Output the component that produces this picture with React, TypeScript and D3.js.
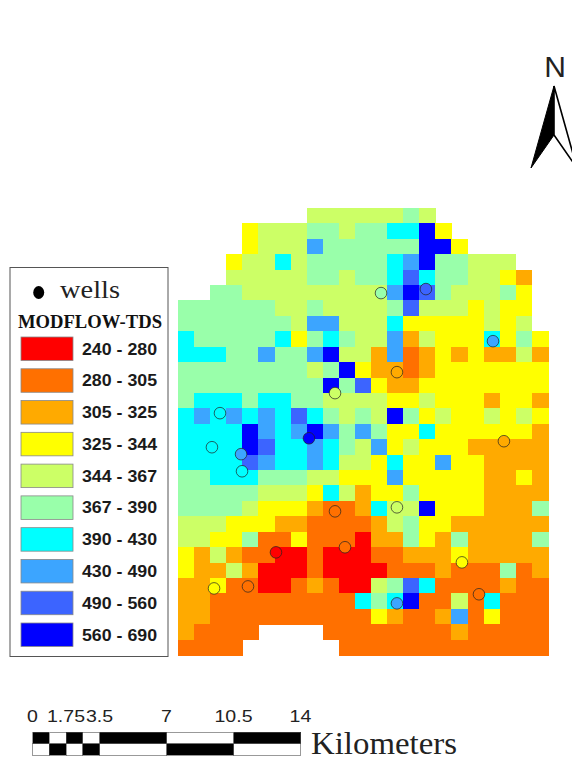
import React from "react";
import * as d3 from "d3";

// MODFLOW-TDS class for each model cell; "." is outside the model domain.
const gridRows = [
  "........GGGGGGMG.......",
  "....YGGGMMGMMCCDY......",
  "....YGGGLMMMMMMDDY.....",
  "...YGGCGMMMMMCLDMMGGG..",
  "...GGGGGMMGMMCBCMMGGYA.",
  "..MMGGGGGGGGGLDBMGGGMY.",
  "MMMMMMGGMGGGGMBGGGYGYY.",
  "MMMMMMMGLLGGGCYYYYYGYG.",
  "CMMMMMCYMCMGGLAGYYYCYMY",
  "CCCMMLMMLDGGALOAYAYAAGA",
  "MMMMMMMMGMDYAAOAYYYYYYY",
  "MMMMMMMMMDMBYAAYYYYYYYY",
  "MCCCMCCMMGGGGYYGYYYAYYA",
  "CLCLCLCBCMGMGDMYGYYGYGY",
  "CCCCDLCLDLMLMYYCYYYYYYA",
  "CCCCDBCCLCMGLYGYYYAAAAA",
  "CCCCBLCCLCGGYCYYLYYAAAA",
  "MMCCCMMMGGYYYLYYYYYAAYA",
  "MMMMMGGGYCGAYYMYYYYAAAA",
  "MMMMGYYYAOOACGGDYYYAAAM",
  "GGGYYYAAOOOOAGMYYAAAAAA",
  "GGYYMOOYOOORAAMYAMAAAAM",
  "YAGAOORRORRROOAAAYAAAAA",
  "YAAGARRRORRRROOOAOOOMOA",
  "AAYOORROAORRGMBCOOOOAOO",
  "AAOOOOOOOOOCMCDOOGOCOOO",
  "AAOOOOOOOOOOYAOOALOYOOO",
  "AOOOO....OOOOOOOOAOOOOO",
  "OOOO......OOOOOOOOOOOOO",
];

const classKeys = ["R", "O", "A", "Y", "G", "M", "C", "L", "B", "D"];
const classLabels = [
  "240 - 280", "280 - 305", "305 - 325", "325 - 344", "344 - 367",
  "367 - 390", "390 - 430", "430 - 490", "490 - 560", "560 - 690",
];
const classColors = [
  "#ff0000", "#ff7000", "#ffaa00", "#ffff00", "#ccff66",
  "#99ffaa", "#00ffff", "#3ca5ff", "#3c64ff", "#0000ff",
];

// Wells in model grid units (column, row) with their class.
const wellCols = [2.61, 9.76, 12.62, 15.41, 19.58, 13.61, 2.11, 3.92, 3.98, 8.14, 9.76, 10.38, 6.09, 2.24, 4.35, 20.26, 13.61, 17.65, 18.71, 13.61];
const wellRows = [13.31, 12.01, 5.52, 5.26, 8.64, 10.65, 15.52, 15.97, 17.08, 14.94, 19.68, 22.01, 22.34, 24.68, 24.55, 15.13, 19.42, 22.99, 25.06, 25.65];
const wellClasses = ["C", "G", "M", "B", "L", "A", "C", "L", "C", "D", "O", "O", "R", "Y", "O", "A", "G", "Y", "O", "L"];

const scaleBreaks = [0, 0.875, 1.75, 2.625, 3.5, 7, 10.5, 14];
const scaleTicks = [0, 1.75, 3.5, 7, 10.5, 14];

const sans = "'Liberation Sans', Arial, sans-serif";
const serif = "'Liberation Serif', 'Times New Roman', serif";

// Stretched tick-label width, as the source picture is wider than it is tall.
const tickWidth = (s: string) =>
  s.split("").reduce((w, ch) => w + (ch === "." ? 0.278 : 0.556), 0) * 17 * 1.15;

export default function App() {
  const nCols = gridRows[0].length;
  const nRows = gridRows.length;
  const x = d3.scaleLinear().domain([0, nCols]).range([178, 548]);
  const y = d3.scaleLinear().domain([0, nRows]).range([208, 655]);
  const color = d3.scaleOrdinal<string, string>().domain(classKeys).range(classColors);
  const legendY = d3.scaleLinear().domain([0, 9]).range([337, 623]);
  const km = d3.scaleLinear().domain([0, 14]).range([32.5, 300.5]);

  const cells = gridRows.flatMap((row, r) =>
    row.split("").map((k, c) => ({ k, c, r })).filter((d) => d.k !== ".")
  );
  const segments = d3.pairs(scaleBreaks);

  return (
    <svg
      width={572}
      height={760}
      viewBox="0 0 572 760"
      style={{ position: "absolute", left: 0, top: 0, background: "#fff" }}
    >
      <g shapeRendering="crispEdges">
        {cells.map((d) => (
          <rect
            key={`${d.r}-${d.c}`}
            x={x(d.c)}
            y={y(d.r)}
            width={x(d.c + 1) - x(d.c) + 0.5}
            height={y(d.r + 1) - y(d.r) + 0.5}
            fill={color(d.k)}
          />
        ))}
      </g>

      <g>
        {wellCols.map((c, i) => (
          <circle
            key={i}
            cx={x(c)}
            cy={y(wellRows[i])}
            r={5.8}
            fill={color(wellClasses[i])}
            stroke="#222"
            strokeOpacity={0.7}
            strokeWidth={1}
          />
        ))}
      </g>

      {/* legend */}
      <rect x={10} y={267.5} width={158} height={389} fill="#fff" stroke="#555" strokeWidth={1} />
      <ellipse cx={38.7} cy={292.5} rx={5.5} ry={6.5} fill="#000" />
      <text x={60} y={298} fontFamily={serif} fontSize={26} fill="#222" textLength={60} lengthAdjust="spacingAndGlyphs">
        wells
      </text>
      <text x={18} y={328} fontFamily={serif} fontSize={19} fontWeight="bold" fill="#111" textLength={144} lengthAdjust="spacingAndGlyphs">
        MODFLOW-TDS
      </text>
      {classLabels.map((label, i) => (
        <g key={label}>
          <rect x={21} y={legendY(i)} width={52} height={23.5} fill={classColors[i]} stroke="#888" strokeWidth={0.8} />
          <text
            x={82}
            y={legendY(i) + 17.5}
            fontFamily={sans}
            fontSize={16}
            fontWeight="bold"
            fill="#1a1a1a"
            textLength={75}
            lengthAdjust="spacingAndGlyphs"
          >
            {label}
          </text>
        </g>
      ))}

      {/* scale bar */}
      <g shapeRendering="crispEdges">
        {segments.map(([a, b], i) => (
          <g key={a}>
            <rect x={km(a)} y={732} width={km(b) - km(a)} height={11.5} fill={i % 2 === 0 ? "#000" : "#fff"} stroke="#555" strokeWidth={0.6} />
            <rect x={km(a)} y={743.5} width={km(b) - km(a)} height={11.5} fill={i % 2 === 0 ? "#fff" : "#000"} stroke="#555" strokeWidth={0.6} />
          </g>
        ))}
      </g>
      {scaleTicks.map((t) => (
        <text
          key={t}
          x={km(t)}
          y={722}
          textAnchor="middle"
          fontFamily={sans}
          fontSize={17}
          fill="#222"
          textLength={tickWidth(String(t))}
          lengthAdjust="spacingAndGlyphs"
        >
          {t}
        </text>
      ))}
      <text x={311} y={754} fontFamily={serif} fontSize={31} fill="#222" textLength={146} lengthAdjust="spacingAndGlyphs">
        Kilometers
      </text>

      {/* north arrow */}
      <text x={555} y={77} textAnchor="middle" fontFamily={sans} fontSize={30} fill="#222">
        N
      </text>
      <path d="M554 86 L531 168 L554 135 Z" fill="#000" stroke="#000" strokeWidth={1} />
      <path d="M554 86 L577 168 L554 135 Z" fill="#fff" stroke="#000" strokeWidth={1.6} strokeLinejoin="miter" />
    </svg>
  );
}
